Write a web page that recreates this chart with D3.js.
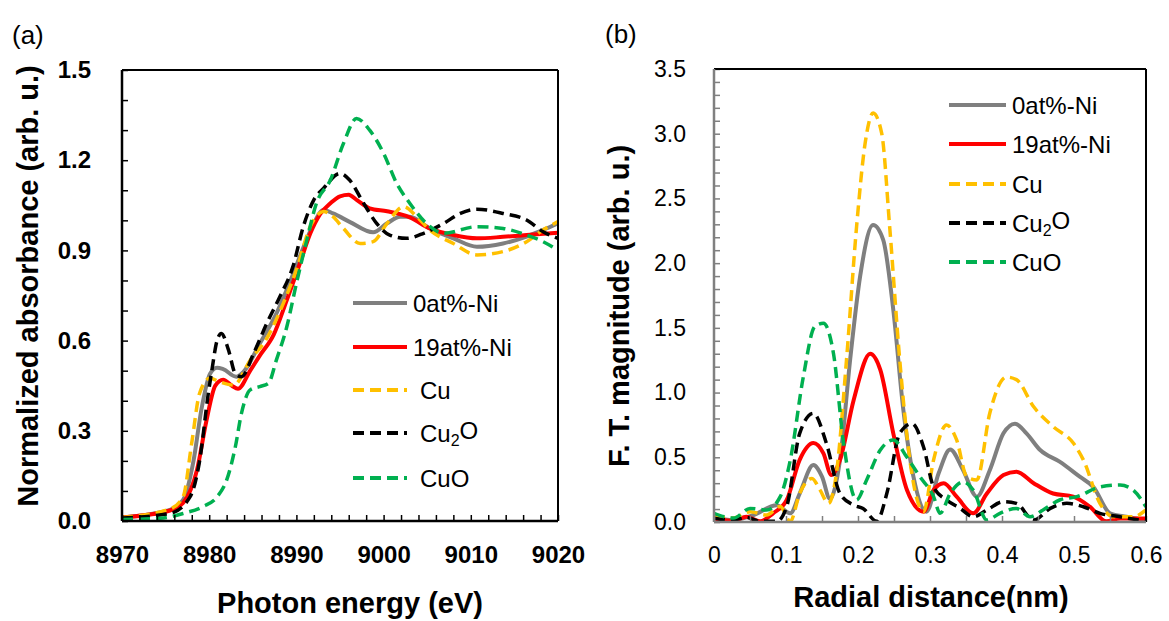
<!DOCTYPE html>
<html>
<head>
<meta charset="utf-8">
<script src="https://cdn.jsdelivr.net/npm/d3@7"></script>
<style>
  body { margin: 0; background: #fff; }
  text { font-family: Arial, "Liberation Sans", sans-serif; }
</style>
</head>
<body>
<svg id="chart" width="1169" height="621"></svg>
<script>
// ---- (a) XANES: [photon energy eV, normalized absorbance]
var xanesNi0 = [[8970,0.012],[8975.5,0.037],[8977,0.07],[8978.2,0.2],[8979.1,0.37],[8980.1,0.49],
  [8980.9,0.51],[8981.6,0.505],[8983.1,0.48],[8983.9,0.495],[8985.8,0.59],[8987.7,0.69],[8989.6,0.82],
  [8990.8,0.91],[8992,0.99],[8993.1,1.034],[8994.2,1.023],[8996.1,0.995],[8998.8,0.96],[9000.4,0.99],
  [9001.9,1.012],[9003,1.012],[9005.3,0.973],[9008,0.94],[9010.7,0.912],[9013.7,0.923],[9016.4,0.946],
  [9018.3,0.968],[9020,0.99]];
var xanesNi19 = [[8970,0.012],[8975.5,0.035],[8977,0.06],[8978.6,0.17],[8979.7,0.336],[8980.7,0.45],
  [8981.6,0.47],[8982.6,0.45],[8983.3,0.44],[8984.7,0.5],[8985.8,0.55],[8987.4,0.62],[8988.9,0.735],
  [8990.4,0.857],[8991.6,0.957],[8992.7,1.02],[8993.9,1.057],[8995,1.08],[8996,1.085],[8996.9,1.068],
  [8998.4,1.04],[9000.4,1.03],[9003,1.01],[9005.3,0.973],[9008,0.951],[9010.7,0.94],[9013.7,0.945],
  [9016.4,0.951],[9020,0.959]];
var xanesCu = [[8970,0.012],[8975.5,0.04],[8977,0.08],[8978,0.26],[8978.9,0.425],[8980.1,0.475],
  [8981.2,0.463],[8982.8,0.452],[8984.7,0.535],[8986.6,0.607],[8988.5,0.724],[8990,0.835],[8991.6,0.98],
  [8993.1,1.029],[8994.2,1.012],[8995.4,0.973],[8997.3,0.923],[8998.8,0.929],[9000.4,0.99],[9002.3,1.045],
  [9003.8,1.012],[9005.3,0.968],[9008,0.923],[9010.7,0.885],[9013.7,0.896],[9016.4,0.929],[9018.3,0.968],
  [9020,0.996]];
var xanesCu2O = [[8970,0.01],[8975.5,0.025],[8977.8,0.08],[8978.9,0.2],[8979.9,0.425],[8980.3,0.5],
  [8980.9,0.6],[8981.4,0.624],[8982.2,0.57],[8983,0.49],[8983.7,0.48],[8985.1,0.558],[8986.6,0.657],
  [8988.1,0.746],[8989.6,0.846],[8990.8,0.98],[8992,1.068],[8993.1,1.106],[8995,1.156],[8996.1,1.134],
  [8997.7,1.057],[8999.2,0.99],[9000.7,0.951],[9002.6,0.94],[9004.6,0.957],[9006.9,0.99],[9008.8,1.023],
  [9010.7,1.037],[9013.7,1.023],[9016.4,1.001],[9018.3,0.962],[9020,0.94]];
var xanesCuO = [[8970,0.005],[8974.4,0.009],[8977,0.025],[8979.3,0.048],[8980.9,0.08],[8982,0.136],
  [8983,0.247],[8983.7,0.358],[8984.7,0.436],[8985.8,0.447],[8986.8,0.458],[8987.7,0.535],[8988.9,0.646],
  [8990,0.79],[8991.2,0.935],[8992.3,1.057],[8993.9,1.134],[8995.4,1.256],[8996.9,1.339],[8998.4,1.3],
  [9000,1.223],[9001.5,1.123],[9003,1.057],[9004.9,0.99],[9006.9,0.957],[9010.7,0.979],[9013.7,0.973],
  [9016.4,0.951],[9018.3,0.929],[9020,0.9]];

// ---- (b) Fourier transform: [radial distance nm, FT magnitude]
var ftNi0 = [[0,0.04],[0.027,0.015],[0.055,0.054],[0.087,0.13],[0.106,0.067],[0.119,0.22],[0.138,0.44],
  [0.15,0.35],[0.161,0.18],[0.175,0.48],[0.189,1.25],[0.203,1.9],[0.221,2.295],[0.235,2.18],[0.249,1.64],
  [0.263,0.865],[0.277,0.35],[0.295,0.08],[0.312,0.376],[0.328,0.56],[0.346,0.4],[0.365,0.196],
  [0.383,0.4],[0.402,0.685],[0.418,0.76],[0.434,0.685],[0.453,0.556],[0.48,0.466],[0.508,0.35],
  [0.527,0.27],[0.55,0.067],[0.573,0.04],[0.6,0.015]];
var ftNi19 = [[0,0.028],[0.027,0.01],[0.045,0.04],[0.064,0.005],[0.082,0.067],[0.101,0.17],[0.119,0.48],
  [0.138,0.61],[0.152,0.53],[0.163,0.363],[0.175,0.48],[0.194,0.943],[0.217,1.3],[0.231,1.175],
  [0.249,0.685],[0.268,0.247],[0.291,0.08],[0.305,0.247],[0.319,0.3],[0.337,0.196],[0.36,0.067],
  [0.379,0.22],[0.402,0.363],[0.42,0.389],[0.444,0.3],[0.471,0.22],[0.499,0.196],[0.522,0.118],
  [0.545,0.005],[0.564,0.028],[0.6,0.028]];
var ftCu = [[0,0.04],[0.027,0.03],[0.05,0.08],[0.073,0.054],[0.092,0.12],[0.106,0.005],[0.119,0.22],
  [0.136,0.337],[0.147,0.25],[0.159,0.144],[0.17,0.376],[0.184,1.25],[0.198,2.28],[0.21,2.93],
  [0.221,3.16],[0.233,3.0],[0.244,2.28],[0.258,1.25],[0.272,0.48],[0.291,0.08],[0.305,0.48],
  [0.323,0.75],[0.337,0.634],[0.351,0.35],[0.365,0.325],[0.383,0.84],[0.406,1.12],[0.42,1.1],
  [0.444,0.89],[0.471,0.737],[0.499,0.61],[0.513,0.48],[0.536,0.144],[0.555,0.04],[0.582,0.04],
  [0.6,0.093]];
var ftCu2O = [[0,0.03],[0.027,0.015],[0.045,0.036],[0.064,0.005],[0.087,0.005],[0.101,0.12],
  [0.119,0.685],[0.138,0.84],[0.156,0.61],[0.175,0.22],[0.194,0.13],[0.207,0.105],[0.226,0.005],
  [0.24,0.22],[0.258,0.685],[0.275,0.76],[0.291,0.58],[0.305,0.27],[0.323,0.17],[0.342,0.105],
  [0.36,0.04],[0.379,0.093],[0.402,0.157],[0.42,0.144],[0.444,0.015],[0.467,0.105],[0.49,0.144],
  [0.513,0.118],[0.536,0.067],[0.564,0.04],[0.6,0.005]];
var ftCuO = [[0,0.067],[0.027,0.03],[0.05,0.105],[0.073,0.093],[0.092,0.196],[0.106,0.48],[0.124,1.12],
  [0.14,1.51],[0.152,1.535],[0.166,1.3],[0.18,0.61],[0.198,0.17],[0.212,0.325],[0.231,0.556],
  [0.249,0.634],[0.268,0.5],[0.286,0.35],[0.305,0.196],[0.314,0.067],[0.328,0.22],[0.346,0.31],
  [0.36,0.247],[0.379,0.015],[0.397,0.067],[0.42,0.105],[0.439,0.04],[0.457,0.093],[0.48,0.17],
  [0.504,0.196],[0.536,0.27],[0.564,0.286],[0.582,0.247],[0.6,0.118]];

var seriesNames = ["0at%-Ni", "19at%-Ni", "Cu", "Cu2O", "CuO"];
var seriesColors = ["#7f7f7f", "#ff0000", "#ffc000", "#000000", "#00b050"];
var seriesDashed = [false, false, true, true, true];

var svg = d3.select("#chart");

function isMultiple(d, step) {
    var q = d / step;
    return Math.abs(q - Math.round(q)) < 1e-6;
}

function drawPanel(p) {
    var x = d3.scaleLinear().domain(p.xDomain).range(p.xRange);
    var y = d3.scaleLinear().domain(p.yDomain).range(p.yRange);
    var g = svg.append("g");

    g.append("clipPath").attr("id", p.id + "clip")
        .append("rect")
        .attr("x", p.xRange[0]).attr("y", p.yRange[1])
        .attr("width", p.xRange[1] - p.xRange[0])
        .attr("height", p.yRange[0] - p.yRange[1]);

    // curves
    var line = d3.line().x(d => x(d[0])).y(d => y(d[1])).curve(d3.curveMonotoneX);
    var curves = g.append("g").attr("clip-path", "url(#" + p.id + "clip)");
    p.series.forEach(function(s, i) {
        curves.append("path")
            .datum(s)
            .attr("fill", "none")
            .attr("stroke", seriesColors[i])
            .attr("stroke-width", seriesDashed[i] ? 3.5 : 4)
            .attr("stroke-dasharray", seriesDashed[i] ? "11,6" : null)
            .attr("d", line);
    });

    // axes with inward ticks
    var xAxis = d3.axisBottom(x)
        .tickValues(d3.range(p.xDomain[0], p.xDomain[1] + p.xMinor / 2, p.xMinor))
        .tickSize(-6).tickSizeOuter(0).tickPadding(p.xPad)
        .tickFormat(d => isMultiple(d - p.xDomain[0], p.xMajor) ? p.xFmt(d) : "");
    var yAxis = d3.axisLeft(y)
        .tickValues(d3.range(p.yDomain[0], p.yDomain[1] + p.yMinor / 2, p.yMinor))
        .tickSize(-6).tickSizeOuter(0).tickPadding(p.yPad)
        .tickFormat(d => isMultiple(d, p.yMajor) ? d3.format(".1f")(d) : "");

    [["x", xAxis, "translate(0," + p.yRange[0] + ")"], ["y", yAxis, "translate(" + p.xRange[0] + ",0)"]]
        .forEach(function(a) {
            var ax = g.append("g").attr("transform", a[2]).call(a[1]);
            ax.select(".domain").remove();
            ax.selectAll(".tick line").attr("stroke", p.tickColor).attr("stroke-width", 1.5);
            ax.selectAll(".tick text")
                .attr("fill", "#000")
                .style("font-size", p.tickFont + "px")
                .style("font-weight", p.tickWeight);
        });

    // frame
    var x0 = p.xRange[0], x1 = p.xRange[1], y0 = p.yRange[0], y1 = p.yRange[1];
    g.append("line").attr("x1", x0).attr("x2", x1).attr("y1", y1).attr("y2", y1)
        .attr("stroke", "#000").attr("stroke-width", 2);
    g.append("line").attr("x1", x1).attr("x2", x1).attr("y1", y1).attr("y2", y0)
        .attr("stroke", "#000").attr("stroke-width", 2);
    g.append("line").attr("x1", x0).attr("x2", x1).attr("y1", y0).attr("y2", y0)
        .attr("stroke", p.axisColor).attr("stroke-width", 2.5);
    g.append("line").attr("x1", x0).attr("x2", x0).attr("y1", y1).attr("y2", y0)
        .attr("stroke", p.axisColor).attr("stroke-width", 2.5);

    // titles
    g.append("text")
        .attr("x", p.xTitlePos[0]).attr("y", p.xTitlePos[1])
        .attr("text-anchor", "middle")
        .style("font-size", "29px").style("font-weight", "bold")
        .text(p.xTitle);
    g.append("text")
        .attr("transform", "translate(" + p.yTitlePos[0] + "," + p.yTitlePos[1] + ") rotate(-90)")
        .attr("text-anchor", "middle")
        .style("font-size", "29px").style("font-weight", "bold")
        .text(p.yTitle);
    g.append("text")
        .attr("x", p.labelPos[0]).attr("y", p.labelPos[1])
        .style("font-size", "26px")
        .text(p.label);

    // legend
    seriesNames.forEach(function(name, i) {
        var ly = p.legendY[i];
        g.append("line")
            .attr("x1", p.legendX[0]).attr("x2", p.legendX[1])
            .attr("y1", ly).attr("y2", ly)
            .attr("stroke", seriesColors[i])
            .attr("stroke-width", 4)
            .attr("stroke-dasharray", seriesDashed[i] ? "11,6" : null);
        var t = g.append("text")
            .attr("x", p.legendX[1] + (seriesDashed[i] ? p.legendGapDashed : 6))
            .attr("y", ly)
            .attr("dy", "0.36em")
            .style("font-size", "24px");
        if (name === "Cu2O") {
            t.append("tspan").text("Cu");
            t.append("tspan").attr("dy", "0.3em").style("font-size", "16px").text("2");
            t.append("tspan").attr("dy", "-0.3em").text("O");
        } else {
            t.text(name);
        }
    });
}

drawPanel({
    id: "a",
    series: [xanesNi0, xanesNi19, xanesCu, xanesCu2O, xanesCuO],
    xDomain: [8970, 9020], xRange: [122, 558],
    yDomain: [0, 1.5], yRange: [521, 70],
    xMinor: 2, xMajor: 10, yMinor: 0.1, yMajor: 0.3,
    xFmt: d3.format("d"), xPad: 25, yPad: 31,
    tickFont: 24, tickWeight: "bold",
    tickColor: "#000", axisColor: "#000",
    xTitle: "Photon energy (eV)", xTitlePos: [350, 613],
    yTitle: "Normalized absorbance (arb. u.)", yTitlePos: [38, 286],
    label: "(a)", labelPos: [12, 44],
    legendX: [353, 407], legendGapDashed: 13,
    legendY: [303, 347, 390, 433, 478]
});

drawPanel({
    id: "b",
    series: [ftNi0, ftNi19, ftCu, ftCu2O, ftCuO],
    xDomain: [0, 0.6], xRange: [714, 1146],
    yDomain: [0, 3.5], yRange: [522, 69],
    xMinor: 0.05, xMajor: 0.1, yMinor: 0.1, yMajor: 0.5,
    xFmt: d => d === 0 ? "0" : d3.format(".1f")(d), xPad: 25, yPad: 28,
    tickFont: 23, tickWeight: "normal",
    tickColor: "#808080", axisColor: "#808080",
    xTitle: "Radial distance(nm)", xTitlePos: [931, 607],
    yTitle: "F. T. magnitude (arb. u.)", yTitlePos: [629, 306],
    label: "(b)", labelPos: [605, 43],
    legendX: [949, 1006], legendGapDashed: 6,
    legendY: [105, 144, 184, 223, 262]
});
</script>
</body>
</html>
